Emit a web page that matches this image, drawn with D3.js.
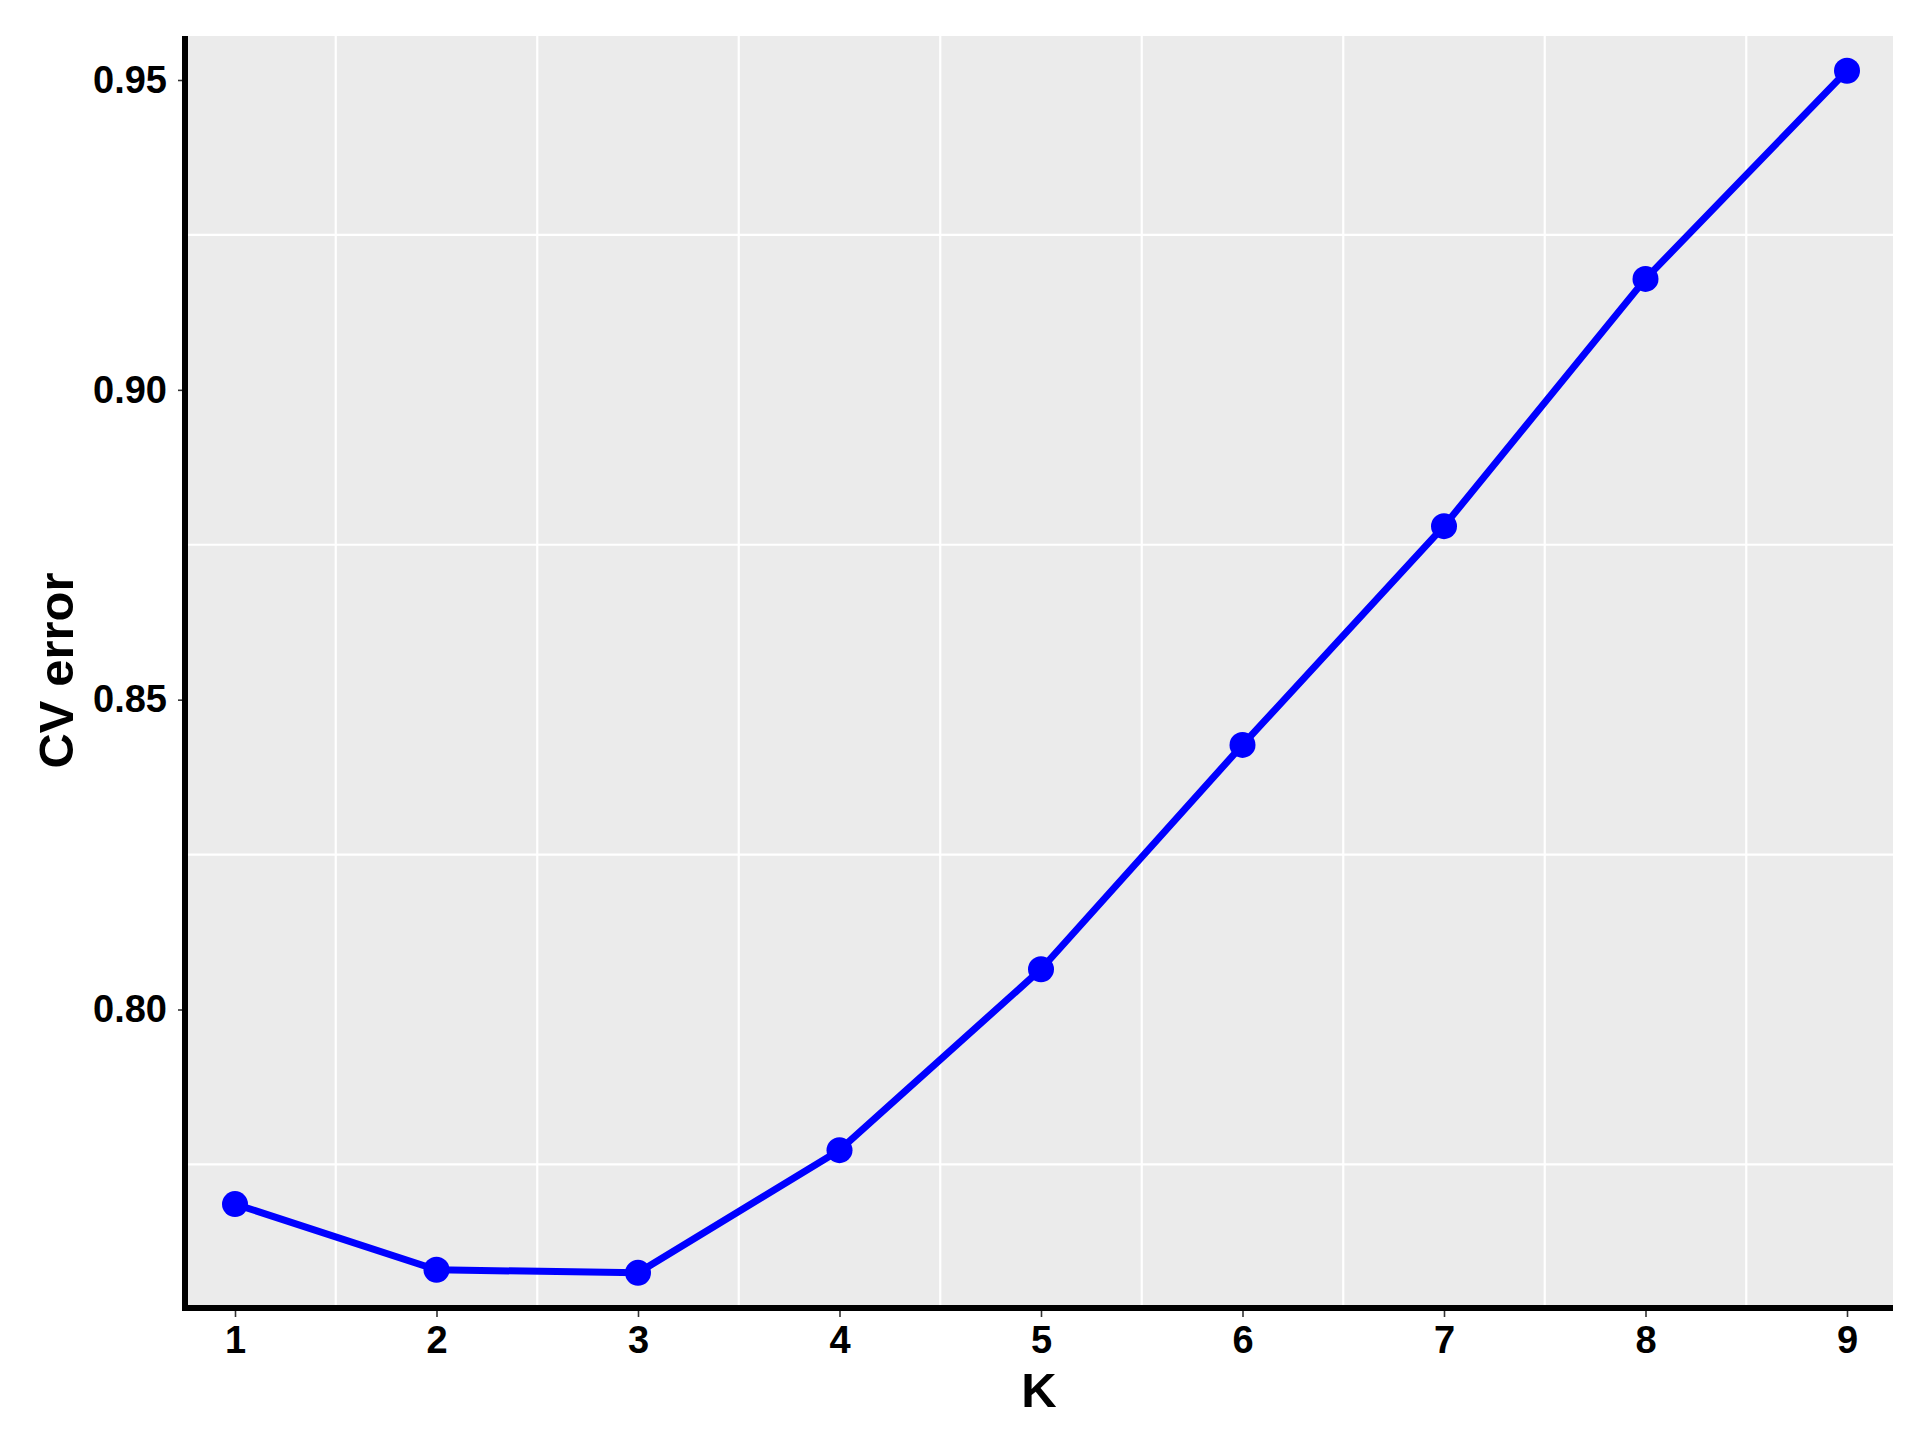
<!DOCTYPE html>
<html>
<head>
<meta charset="utf-8">
<script src="https://cdn.jsdelivr.net/npm/d3@7"></script>
<style>
  html, body { margin: 0; padding: 0; background: #ffffff; }
  svg { display: block; }
  text { font-family: "Liberation Sans", Arial, sans-serif; font-weight: bold; }
</style>
</head>
<body>
<script>
// ---- data ----
const kValues = [1, 2, 3, 4, 5, 6, 7, 8, 9];
const cvError = [0.7686, 0.7580, 0.7575, 0.7773, 0.8065, 0.8427, 0.8780, 0.9179, 0.9515];
const yTicks = [0.80, 0.85, 0.90, 0.95];
const yGrid = [0.775, 0.825, 0.875, 0.925];
const xGrid = [1.5, 2.5, 3.5, 4.5, 5.5, 6.5, 7.5, 8.5];
const xTitle = "K";
const yTitle = "CV error";

// ---- layout ----
const W = 1926, H = 1442;
const panel = { left: 185, right: 1893, top: 36, bottom: 1305 };

const x = d3.scaleLinear().domain([1, 9]).range([235, 1847]);
const y = d3.scaleLinear().domain([0.80, 0.95]).range([1009.5, 80]);

const svg = d3.select("body").append("svg").attr("width", W).attr("height", H);

// panel background
svg.append("rect")
  .attr("x", panel.left).attr("y", panel.top)
  .attr("width", panel.right - panel.left).attr("height", panel.bottom - panel.top)
  .attr("fill", "#EBEBEB");

// grid lines
svg.append("g").selectAll("line").data(yGrid).join("line")
  .attr("x1", panel.left).attr("x2", panel.right)
  .attr("y1", d => y(d)).attr("y2", d => y(d))
  .attr("stroke", "#ffffff").attr("stroke-width", 2.2);
svg.append("g").selectAll("line").data(xGrid).join("line")
  .attr("y1", panel.top).attr("y2", panel.bottom)
  .attr("x1", d => x(d)).attr("x2", d => x(d))
  .attr("stroke", "#ffffff").attr("stroke-width", 2.2);

// data line + points
const pts = kValues.map((k, i) => [k, cvError[i]]);
svg.append("path")
  .datum(pts)
  .attr("fill", "none")
  .attr("stroke", "#0000FF")
  .attr("stroke-width", 7)
  .attr("stroke-linejoin", "round")
  .attr("d", d3.line().x(d => x(d[0])).y(d => y(d[1])));
svg.append("g").selectAll("circle").data(pts).join("circle")
  .attr("cx", d => x(d[0])).attr("cy", d => y(d[1]))
  .attr("r", 13).attr("fill", "#0000FF");

// axes
const yAxis = svg.append("g")
  .attr("transform", `translate(${panel.left - 2},0)`)
  .call(d3.axisLeft(y).tickValues(yTicks).tickFormat(d3.format(".2f")).tickSize(5).tickPadding(11));
const xAxis = svg.append("g")
  .attr("transform", `translate(0,${panel.bottom + 6})`)
  .call(d3.axisBottom(x).tickValues(kValues).tickFormat(d3.format("d")).tickSize(6).tickPadding(9));

[yAxis, xAxis].forEach(g => {
  g.select(".domain").remove();
  g.selectAll(".tick line").attr("stroke", "#333333").attr("stroke-width", 1.6);
  g.selectAll(".tick text").attr("fill", "#000000").style("font-size", "38px").style("font-weight", "bold")
   .style("font-family", '"Liberation Sans", Arial, sans-serif');
});

// axis lines
svg.append("line")
  .attr("x1", panel.left).attr("x2", panel.left)
  .attr("y1", panel.top).attr("y2", panel.bottom + 6)
  .attr("stroke", "#000").attr("stroke-width", 6);
svg.append("line")
  .attr("x1", panel.left - 3).attr("x2", panel.right)
  .attr("y1", panel.bottom + 3).attr("y2", panel.bottom + 3)
  .attr("stroke", "#000").attr("stroke-width", 6);

// titles
svg.append("text")
  .attr("x", (panel.left + panel.right) / 2).attr("y", 1407)
  .attr("text-anchor", "middle")
  .style("font-size", "49px").attr("fill", "#000")
  .text(xTitle);
svg.append("text")
  .attr("transform", `translate(73,${(panel.top + panel.bottom) / 2}) rotate(-90)`)
  .attr("text-anchor", "middle")
  .style("font-size", "49px").attr("fill", "#000")
  .text(yTitle);
</script>
</body>
</html>
